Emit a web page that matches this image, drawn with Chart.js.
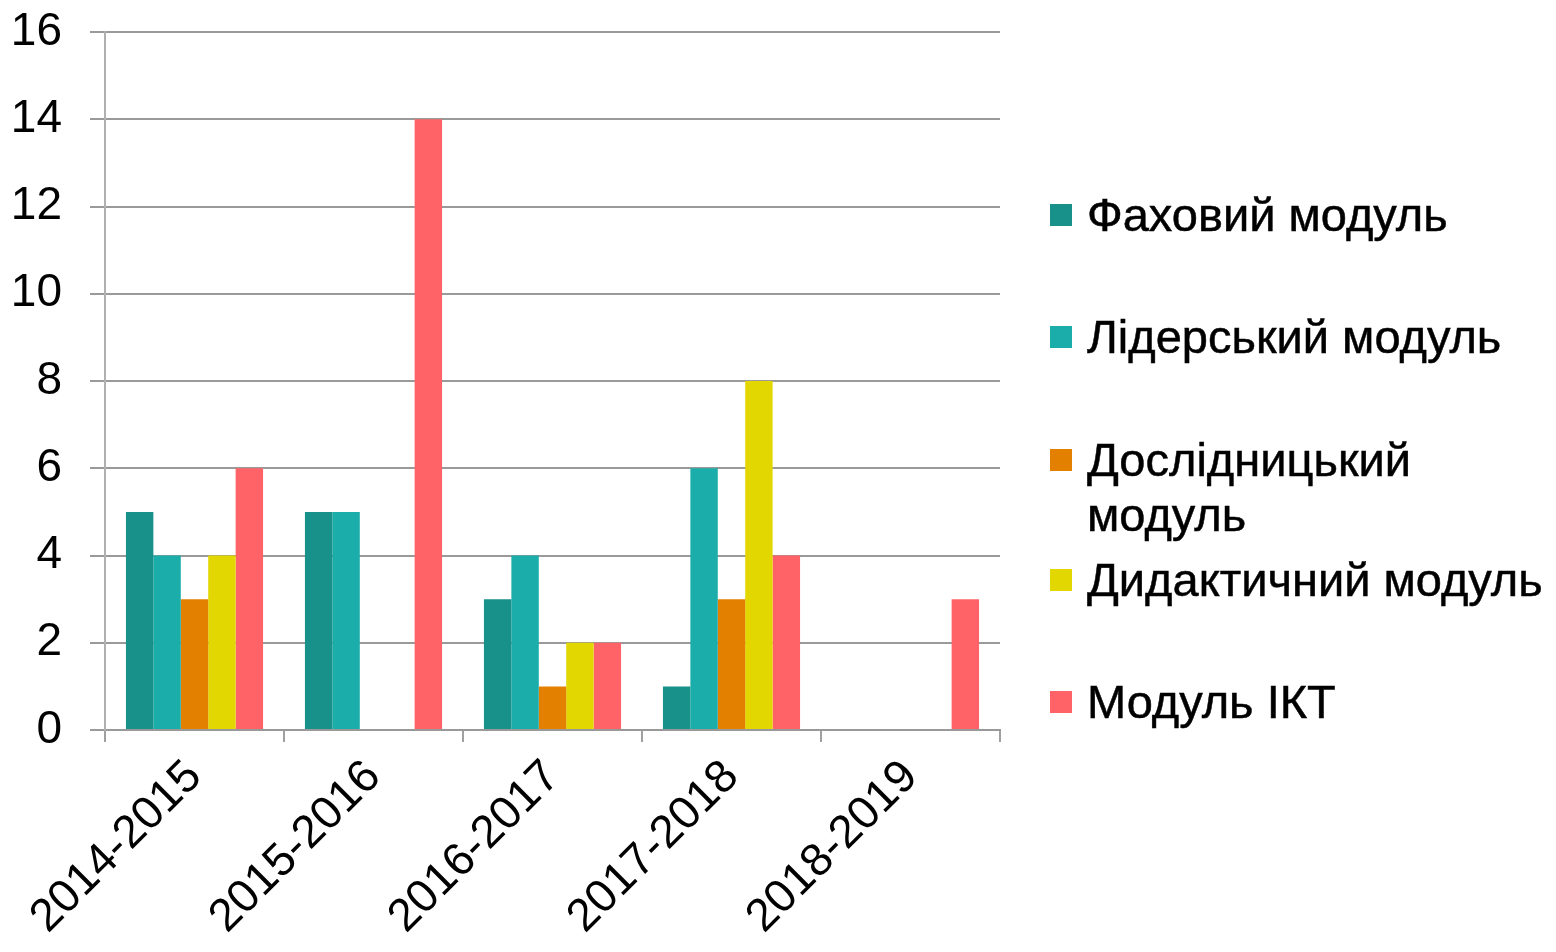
<!DOCTYPE html>
<html>
<head>
<meta charset="utf-8">
<script src="https://cdn.jsdelivr.net/npm/chart.js@4/dist/chart.umd.min.js"></script>
<style>
  html, body { margin: 0; padding: 0; background: #fff; }
  #wrap { position: relative; width: 1556px; height: 952px; }
  #chart { position: absolute; left: 0; top: 0; }
  #legend { position: absolute; left: 0; top: 0; font-family: "Liberation Sans", Arial, sans-serif; font-size: 47px; color: #000; -webkit-text-stroke: 0.5px #000; }
  .item { position: absolute; left: 1050px; width: 506px; display: flex; align-items: flex-start; line-height: 55px; }
  .box { width: 22px; height: 22px; margin-top: 17px; margin-right: 15px; flex: none; }
  .txt { width: 469px; }
</style>
</head>
<body>
<div id="wrap">
  <canvas id="chart" width="1556" height="952"></canvas>
  <div id="legend"></div>
</div>
<script>
const years = ["2014-2015", "2015-2016", "2016-2017", "2017-2018", "2018-2019"];
const seriesNames = ["Фаховий модуль", "Лідерський модуль", "Дослідницький модуль", "Дидактичний модуль", "Модуль ІКТ"];
const fakhovyi = [5, 5, 3, 1, 0];
const liderskyi = [4, 5, 4, 6, 0];
const doslidnytskyi = [3, 0, 1, 3, 0];
const dydaktychnyi = [4, 0, 2, 8, 0];
const ikt = [6, 14, 2, 4, 3];
const yTicks = [0, 2, 4, 6, 8, 10, 12, 14, 16];

const colors = ["#17918a", "#1badaa", "#e38000", "#e2d700", "#ff6368"];
const seriesValues = [fakhovyi, liderskyi, doslidnytskyi, dydaktychnyi, ikt];
const legendTops = [187, 309, 432, 552, 674];

const font = { family: "'Liberation Sans', Arial, sans-serif", size: 46 };

new Chart(document.getElementById("chart"), {
  type: "bar",
  data: {
    labels: years,
    datasets: seriesNames.map((name, i) => ({
      label: name,
      data: seriesValues[i],
      backgroundColor: colors[i],
      borderWidth: 0,
      categoryPercentage: 0.766,
      barPercentage: 1,
    })),
  },
  options: {
    responsive: false,
    animation: false,
    layout: { padding: { top: 32, right: 556, left: 0, bottom: 0 } },
    plugins: { legend: { display: false }, tooltip: { enabled: false } },
    scales: {
      x: {
        afterFit: (scale) => { scale.height = 222; },
        grid: { display: true, drawOnChartArea: false, drawTicks: true, tickLength: 12, color: "#a0a0a0", lineWidth: 2, offset: true },
        border: { display: true, color: "#999", width: 2 },
        ticks: { font: font, color: "#000", minRotation: 45, maxRotation: 45, padding: 8 },
      },
      y: {
        min: 0,
        max: 16,
        afterFit: (scale) => {
          scale.width = 105;
          scale.paddingTop = 0;
          scale.paddingBottom = 0;
        },
        afterBuildTicks: (scale) => { scale.ticks = yTicks.map((v) => ({ value: v })); },
        grid: { color: "#9a9a9a", lineWidth: 2, tickLength: 15 },
        border: { display: true, color: "#b0b0b0", width: 2 },
        ticks: { font: font, color: "#000", padding: 28 },
      },
    },
  },
});

const legend = document.getElementById("legend");
seriesNames.forEach((name, i) => {
  const item = document.createElement("div");
  item.className = "item";
  item.style.top = legendTops[i] + "px";
  item.innerHTML = `<span class="box" style="background:${colors[i]}"></span><span class="txt">${name}</span>`;
  legend.appendChild(item);
});
</script>
</body>
</html>
